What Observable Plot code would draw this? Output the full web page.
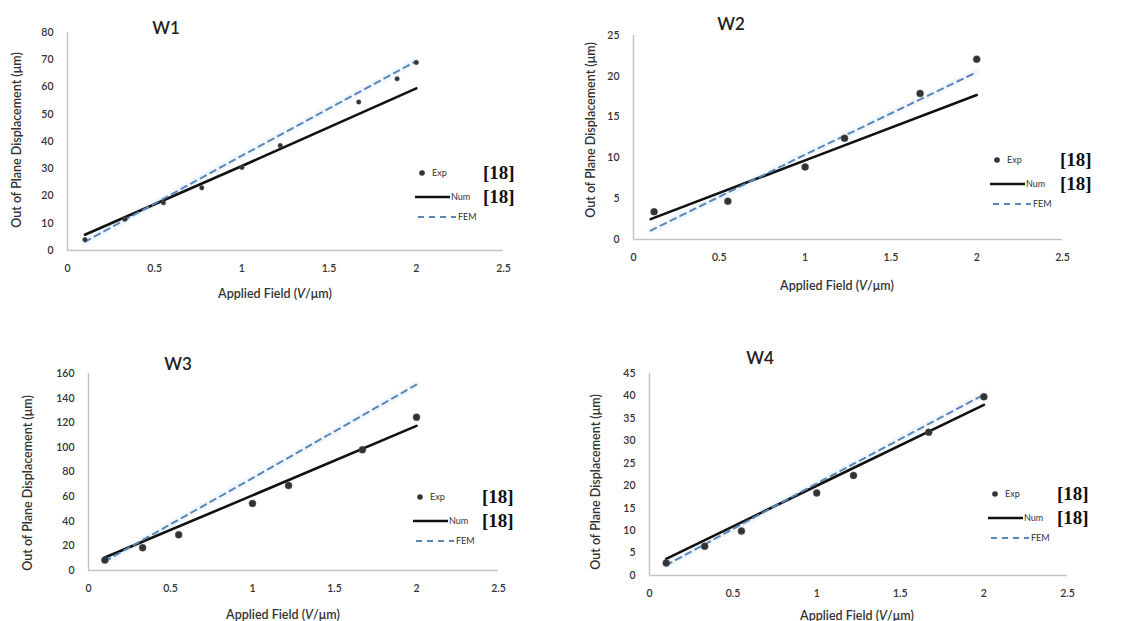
<!DOCTYPE html>
<html><head><meta charset="utf-8">
<script src="https://cdn.jsdelivr.net/npm/d3@7"></script>
<script src="https://cdn.jsdelivr.net/npm/@observablehq/plot@0.6"></script>
<style>
body{margin:0;background:#fff;}
#root{position:relative;width:1143px;height:621px;overflow:hidden;font-family:Lato,"Open Sans",sans-serif;}
.panel{position:absolute;}
.title{position:absolute;font-size:17px;color:#222;transform:translate(-50%,-50%);white-space:nowrap;font-weight:600;}
.xlab{position:absolute;font-size:12.5px;color:#333;transform:translate(-50%,-50%);white-space:nowrap;font-weight:600;}
.ylab{position:absolute;font-size:12.5px;color:#333;transform:translate(-50%,-50%) rotate(-90deg);white-space:nowrap;font-weight:600;}
.leg{position:absolute;}
</style></head>
<body><div id="root"></div>
<script>
// ---- data ----
const xTicks = [0, 0.5, 1, 1.5, 2, 2.5];
const lineX = [0.1, 1.0, 2.0];

const w1ExpX = [0.1, 0.33, 0.55, 0.77, 1.0, 1.22, 1.67, 1.89, 2.0];
const w1ExpY = [4, 11.5, 17.5, 23, 30.5, 38.5, 54.5, 63, 69];
const w1Num = [5.8, 31, 59.5];
const w1Fem = [3.2, 34.8, 69.5];
const w1YTicks = [0, 10, 20, 30, 40, 50, 60, 70, 80];

const w2ExpX = [0.12, 0.55, 1.0, 1.23, 1.67, 2.0];
const w2ExpY = [3.4, 4.7, 8.9, 12.4, 17.9, 22.1];
const w2Num = [2.5, 9.7, 17.7];
const w2Fem = [1.1, 10.4, 20.5];
const w2YTicks = [0, 5, 10, 15, 20, 25];

const w3ExpX = [0.1, 0.33, 0.55, 1.0, 1.22, 1.67, 2.0];
const w3ExpY = [8.5, 18.5, 29, 54.5, 69, 98, 124.5];
const w3Num = [10.5, 61, 117.5];
const w3Fem = [7.5, 75, 151];
const w3YTicks = [0, 20, 40, 60, 80, 100, 120, 140, 160];

const w4ExpX = [0.1, 0.33, 0.55, 1.0, 1.22, 1.67, 2.0];
const w4ExpY = [2.8, 6.5, 9.9, 18.4, 22.3, 31.9, 39.8];
const w4Num = [3.7, 20, 38];
const w4Fem = [2.3, 20.5, 40.3];
const w4YTicks = [0, 5, 10, 15, 20, 25, 30, 35, 40, 45];

const panels = [
  {name:"W1", expX:w1ExpX, expY:w1ExpY, num:w1Num, fem:w1Fem, yt:w1YTicks, r:2.3,
   box:{left:0, top:0, w:560, h:310, ml:67, mr:57, mt:32, mb:60},
   title:[166,27], xlab:[275,293], ylab:[16,140], leg:[410,160], ref:483},
  {name:"W2", expX:w2ExpX, expY:w2ExpY, num:w2Num, fem:w2Fem, yt:w2YTicks, r:3.5,
   box:{left:570, top:0, w:573, h:300, ml:63, mr:81, mt:35, mb:61},
   title:[731,23], xlab:[837,285], ylab:[590,130], leg:[985,147], ref:1060},
  {name:"W3", expX:w3ExpX, expY:w3ExpY, num:w3Num, fem:w3Fem, yt:w3YTicks, r:3.5,
   box:{left:0, top:310, w:570, h:311, ml:88, mr:72, mt:63, mb:51},
   title:[178,363], xlab:[283,614], ylab:[27,483], leg:[408,484], ref:482},
  {name:"W4", expX:w4ExpX, expY:w4ExpY, num:w4Num, fem:w4Fem, yt:w4YTicks, r:3.5,
   box:{left:570, top:310, w:573, h:311, ml:79, mr:76, mt:63, mb:46},
   title:[760,357], xlab:[857,615], ylab:[595,482], leg:[983,481], ref:1057}
];

const root = document.getElementById("root");
const FEMC = "#5b86b8";

for (const p of panels) {
  const exp = p.expX.map((x,i)=>({x, y:p.expY[i]}));
  const num = lineX.map((x,i)=>({x, y:p.num[i]}));
  const fem = lineX.map((x,i)=>({x, y:p.fem[i]}));
  const b = p.box;
  const chart = Plot.plot({
    width:b.w, height:b.h, marginLeft:b.ml, marginRight:b.mr, marginTop:b.mt, marginBottom:b.mb,
    style:{fontFamily:"Lato, 'Open Sans', sans-serif", fontSize:"10.5px", background:"transparent"},
    x:{domain:[0,2.5]},
    y:{domain:[0, p.yt[p.yt.length-1]]},
    marks:[
      Plot.ruleY([0], {stroke:"#c4c4c4", strokeWidth:1.5}),
      Plot.ruleX([0], {stroke:"#c4c4c4", strokeWidth:1.5}),
      Plot.axisX({ticks:xTicks, tickSize:0, tickPadding:14, tickFormat:d=>String(d), label:null, fill:"#333", fontWeight:600}),
      Plot.axisY({ticks:p.yt, tickSize:0, tickPadding:14, tickFormat:d=>String(d), label:null, fill:"#333", fontWeight:600}),
      Plot.line(fem, {x:"x", y:"y", stroke:"#e4f0fa", strokeWidth:7, strokeOpacity:0.5}),
      Plot.line(num, {x:"x", y:"y", stroke:"#111", strokeWidth:2.6}),
      Plot.line(fem, {x:"x", y:"y", stroke:FEMC, strokeWidth:2, strokeDasharray:"6,5"}),
      Plot.dot(exp, {x:"x", y:"y", r:p.r, fill:"#333", stroke:"#555", strokeWidth:0.5})
    ]
  });
  chart.classList.add("panel");
  chart.style.left = b.left+"px"; chart.style.top = b.top+"px";
  root.appendChild(chart);

  const t = document.createElement("div"); t.className="title"; t.textContent=p.name;
  t.style.left=p.title[0]+"px"; t.style.top=p.title[1]+"px"; root.appendChild(t);
  const xl = document.createElement("div"); xl.className="xlab";
  xl.innerHTML="Applied Field (<i>V</i>/μm)";
  xl.style.left=p.xlab[0]+"px"; xl.style.top=p.xlab[1]+"px"; root.appendChild(xl);
  const yl = document.createElement("div"); yl.className="ylab";
  yl.textContent="Out of Plane Displacement (μm)";
  yl.style.left=p.ylab[0]+"px"; yl.style.top=p.ylab[1]+"px"; root.appendChild(yl);

  // legend
  const L = d3.create("svg").attr("width",120).attr("height",70)
    .attr("class","leg").style("left",p.leg[0]+"px").style("top",p.leg[1]+"px")
    .style("font-family","Lato, sans-serif");
  L.append("circle").attr("cx",12).attr("cy",13).attr("r",2.8).attr("fill","#333");
  L.append("text").attr("x",22).attr("y",16).attr("font-size",9).attr("fill","#333").text("Exp");
  L.append("line").attr("x1",5).attr("x2",40).attr("y1",37).attr("y2",37).attr("stroke","#111").attr("stroke-width",2.6);
  L.append("text").attr("x",41).attr("y",40).attr("font-size",9).attr("fill","#333").text("Num");
  L.append("line").attr("x1",8).attr("x2",46).attr("y1",57).attr("y2",57).attr("stroke",FEMC).attr("stroke-width",2).attr("stroke-dasharray","6,5");
  L.append("text").attr("x",48).attr("y",60).attr("font-size",9).attr("fill","#333").text("FEM");
  const rx = p.ref - p.leg[0];
  L.append("text").attr("x",rx).attr("y",19).attr("font-size",19).attr("font-weight","bold")
    .attr("font-family","'Liberation Serif', 'DejaVu Serif', serif").attr("fill","#111").text("[18]");
  L.append("text").attr("x",rx).attr("y",43).attr("font-size",19).attr("font-weight","bold")
    .attr("font-family","'Liberation Serif', 'DejaVu Serif', serif").attr("fill","#111").text("[18]");
  root.appendChild(L.node());
}
</script>
</body></html>
